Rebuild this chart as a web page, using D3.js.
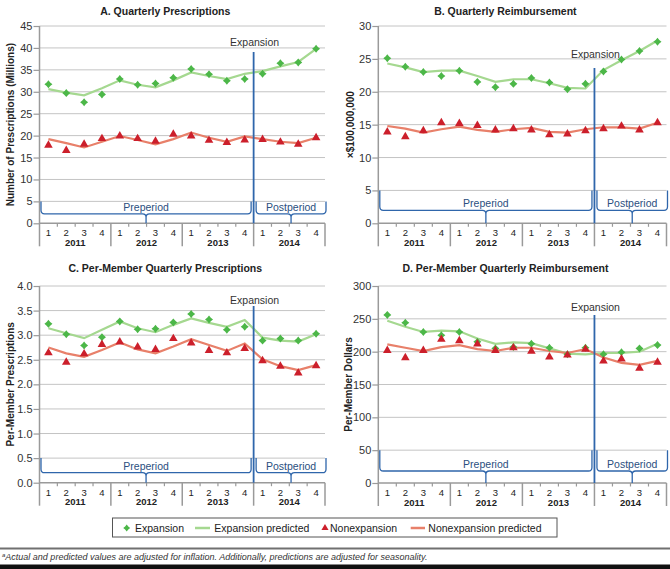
<!DOCTYPE html>
<html><head><meta charset="utf-8">
<script src="https://cdn.jsdelivr.net/npm/d3@7"></script>
<style>
body{margin:0;background:#fff;}
text{font-family:"Liberation Sans",Arial,sans-serif;}
</style></head>
<body><svg id="c" width="670" height="569"></svg>
<script>
// ---------- data ----------
const years = ["2011","2012","2013","2014"];
const quarters = ["1","2","3","4"];
const periods = ["Preperiod","Postperiod"];

const presExp      = [31.7,29.7,27.6,29.4,32.9,31.6,31.9,33.2,35.2,34.0,32.5,32.9,34.1,36.5,36.7,39.8];
const presExpPred  = [30.6,29.8,29.2,30.8,32.6,31.6,31.0,32.6,34.4,33.6,32.9,34.1,34.7,35.8,36.8,39.8];
const presNon      = [17.7,16.5,17.9,19.2,19.8,19.2,18.6,20.2,19.8,18.8,18.3,18.9,19.0,18.4,17.9,19.4];
const presNonPred  = [19.2,18.3,17.3,18.6,19.9,19.0,18.0,19.2,20.7,19.5,18.6,19.8,19.2,18.6,18.3,19.5];

const reimbExp     = [25.1,23.8,23.0,22.4,23.2,21.5,20.7,21.2,22.1,21.4,20.4,21.2,23.1,24.9,26.2,27.6];
const reimbExpPred = [24.3,23.7,23.0,23.2,23.2,22.4,21.5,21.9,21.9,21.3,20.6,20.5,23.3,24.8,26.2,27.8];
const reimbNon     = [13.8,13.1,14.0,15.2,15.1,14.8,14.1,14.3,14.1,13.4,13.5,14.0,14.3,14.7,14.1,15.2];
const reimbNonPred = [14.8,14.4,13.8,14.3,14.7,14.2,13.9,14.3,14.5,13.9,13.8,14.3,14.6,14.6,14.4,15.3];

const pmPresExp     = [3.23,3.02,2.79,2.96,3.28,3.12,3.13,3.26,3.43,3.32,3.11,3.17,2.89,2.93,2.89,3.03];
const pmPresExpPred = [3.14,3.04,2.94,3.11,3.28,3.14,3.06,3.21,3.34,3.25,3.17,3.31,2.95,2.89,2.87,3.02];
const pmPresNon     = [2.63,2.44,2.61,2.80,2.85,2.75,2.70,2.92,2.83,2.68,2.63,2.72,2.47,2.36,2.22,2.37];
const pmPresNonPred = [2.75,2.63,2.56,2.70,2.85,2.71,2.63,2.77,2.92,2.80,2.68,2.83,2.51,2.37,2.29,2.39];

const pmReimbExp     = [256,244,230,225,230,215,205,207,212,206,196,206,196,199,205,210];
const pmReimbExpPred = [247,238,230,232,231,220,212,214,213,205,197,196,198,198,200,212];
const pmReimbNon     = [201,190,201,218,216,211,201,205,200,191,194,203,185,188,174,183];
const pmReimbNonPred = [211,206,201,207,210,204,201,206,206,201,198,204,191,183,180,186];

const ticksA = [0,5,10,15,20,25,30,35,40,45];
const ticksB = [0,5,10,15,20,25,30];
const ticksC = [0,0.5,1.0,1.5,2.0,2.5,3.0,3.5,4.0];
const ticksD = [0,50,100,150,200,250,300];

const legendLabels = ["Expansion","Expansion predicted","Nonexpansion","Nonexpansion predicted"];
const footnote = "Actual and predicted values are adjusted for inflation. Additionally, predictions are adjusted for seasonality.";

// ---------- drawing ----------
const C = {green:"#4cb748", greenLine:"#a5d890", red:"#cc1f2b", redLine:"#e8806a",
           blue:"#2f66ab", grid:"#c4c4c4", axis:"#9a9a9a"};
const svg = d3.select("#c");
const cats = [];
years.forEach(y => quarters.forEach(q => cats.push(y + "-" + q)));
const expIndex = 12; // first postperiod quarter

const panels = [
  {title:"A. Quarterly Prescriptions", ylab:"Number of Prescriptions (Millions)", x0:39.5, x1:325, yT:26, yB:223.3,
   ticks:ticksA, fmt:d3.format("d"), exp:presExp, expP:presExpPred, non:presNon, nonP:presNonPred,
   titleY:15, labX:10, expTextY:46, expTop:52, bracketDrop:9.5},
  {title:"B. Quarterly Reimbursement", ylab:"\u00d7$100,000,000", x0:378.3, x1:666.5, yT:26, yB:223.3,
   ticks:ticksB, fmt:d3.format("d"), exp:reimbExp, expP:reimbExpPred, non:reimbNon, nonP:reimbNonPred,
   titleY:15, labX:350, expTextY:58, expTop:68, bracketDrop:13},
  {title:"C. Per-Member Quarterly Prescriptions", ylab:"Per-Member Prescriptions", x0:39.5, x1:325, yT:286, yB:482.7,
   ticks:ticksC, fmt:d3.format(".1f"), exp:pmPresExp, expP:pmPresExpPred, non:pmPresNon, nonP:pmPresNonPred,
   titleY:272, labX:10, expTextY:304, expTop:306, bracketDrop:10},
  {title:"D. Per-Member Quarterly Reimbursement", ylab:"Per-Member Dollars", x0:378.3, x1:666.5, yT:286, yB:483,
   ticks:ticksD, fmt:d3.format("d"), exp:pmReimbExp, expP:pmReimbExpPred, non:pmReimbNon, nonP:pmReimbNonPred,
   titleY:272, labX:348, expTextY:311, expTop:315, bracketDrop:12}
];

const diamond = s => `M0,${-s}L${s*0.45},${-s*0.45}L${s},0L${s*0.45},${s*0.45}L0,${s}L${-s*0.45},${s*0.45}L${-s},0L${-s*0.45},${-s*0.45}Z`;
const triangle = d3.symbol().type(d3.symbolTriangle).size(32);

panels.forEach(p => {
  const g = svg.append("g");
  const x = d3.scaleBand().domain(cats).range([p.x0, p.x1]);
  const y = d3.scaleLinear().domain([p.ticks[0], p.ticks[p.ticks.length-1]]).range([p.yB, p.yT]);
  const cx = i => x(cats[i]) + x.bandwidth()/2;
  const bw = x.bandwidth();

  // title
  g.append("text").attr("x",(p.x0+p.x1)/2 - 17).attr("y",p.titleY).attr("text-anchor","middle")
    .attr("font-size","10.5px").attr("font-weight","bold").attr("fill","#222").text(p.title);

  // gridlines
  g.selectAll(".gl").data(p.ticks.slice(1)).enter().append("line")
    .attr("x1",p.x0).attr("x2",p.x1).attr("y1",d=>y(d)).attr("y2",d=>y(d))
    .attr("stroke",C.grid).attr("stroke-width",1);

  // y axis
  const ya = g.append("g").attr("transform",`translate(${p.x0},0)`)
    .call(d3.axisLeft(y).tickValues(p.ticks).tickFormat(p.fmt).tickSize(6).tickPadding(1));
  ya.select(".domain").remove();
  ya.selectAll(".tick line").attr("stroke",C.axis).attr("stroke-width",1.2);
  ya.selectAll(".tick text").attr("font-size","11px").attr("fill","#333").attr("font-family","Liberation Sans, Arial, sans-serif");
  g.append("line").attr("x1",p.x0).attr("x2",p.x0).attr("y1",p.yT).attr("y2",p.yB+23)
    .attr("stroke",C.axis).attr("stroke-width",1.5);
  // x axis baseline
  g.append("line").attr("x1",p.x0).attr("x2",p.x1).attr("y1",p.yB).attr("y2",p.yB)
    .attr("stroke",C.axis).attr("stroke-width",1.5);

  // y label
  g.append("text").attr("transform",`translate(${p.labX},${(p.yT+p.yB)/2}) rotate(-90)`)
    .attr("text-anchor","middle").attr("dominant-baseline","central")
    .attr("font-size","10px").attr("font-weight","bold").attr("fill","#222").text(p.ylab);

  // quarter ticks & year separators
  cats.forEach((c,i) => {
    if (i % 4 === 0) return;
    g.append("line").attr("x1",x(c)).attr("x2",x(c)).attr("y1",p.yB).attr("y2",p.yB+3.5)
      .attr("stroke",C.axis).attr("stroke-width",1.2);
  });
  years.forEach((yr,k) => {
    const xs = x(cats[k*4]);
    if (k>0) g.append("line").attr("x1",xs).attr("x2",xs).attr("y1",p.yB).attr("y2",p.yB+23)
      .attr("stroke",C.axis).attr("stroke-width",1.5);
    g.append("text").attr("x",xs + bw*2).attr("y",p.yB+22.5).attr("text-anchor","middle")
      .attr("font-size","9.5px").attr("font-weight","bold").attr("fill","#222").text(yr);
  });
  g.append("line").attr("x1",p.x1).attr("x2",p.x1).attr("y1",p.yB).attr("y2",p.yB+23)
    .attr("stroke",C.axis).attr("stroke-width",1.5);
  cats.forEach((c,i) => {
    g.append("text").attr("x",cx(i)).attr("y",p.yB+13).attr("text-anchor","middle")
      .attr("font-size","9.5px").attr("fill","#222").text(quarters[i%4]);
  });

  // brackets
  const xe = x(cats[expIndex]);
  const top = y(p.ticks[1]);
  const yH = p.yB - p.bracketDrop;
  const r = 3.5;
  const brace = (L,R) => {
    const m = (L+R)/2;
    return `M${L},${top}V${yH-r}Q${L},${yH} ${L+r},${yH}H${m-r}Q${m},${yH} ${m},${yH+r}V${p.yB}` +
           `M${m},${yH+r}Q${m},${yH} ${m+r},${yH}H${R-r}Q${R},${yH} ${R},${yH-r}V${top}`;
  };
  const spans = [[p.x0+1.5, xe-2.5],[xe+2.5, p.x1+1]];
  spans.forEach((s,k) => {
    g.append("path").attr("d",brace(s[0],s[1])).attr("fill","none")
      .attr("stroke",C.blue).attr("stroke-width",1.3);
    g.append("text").attr("x",(s[0]+s[1])/2).attr("y",yH-3).attr("text-anchor","middle")
      .attr("font-size","10.5px").attr("fill","#2b4f80").text(periods[k]);
  });

  // predicted lines
  const line = d3.line().x((d,i)=>cx(i)).y(d=>y(d));
  g.append("path").datum(p.expP).attr("d",line).attr("fill","none")
    .attr("stroke",C.greenLine).attr("stroke-width",2.2);
  g.append("path").datum(p.nonP).attr("d",line).attr("fill","none")
    .attr("stroke",C.redLine).attr("stroke-width",2.2);

  // markers
  g.selectAll(".mk").data(p.exp).enter().append("path")
    .attr("transform",(d,i)=>`translate(${cx(i)},${y(d)})`).attr("d",diamond(4)).attr("fill",C.green);
  g.selectAll(".tr").data(p.non).enter().append("path")
    .attr("transform",(d,i)=>`translate(${cx(i)},${y(d)-0.5})`).attr("d",triangle).attr("fill",C.red);

  // expansion line
  g.append("line").attr("x1",xe).attr("x2",xe).attr("y1",p.expTop).attr("y2",p.yB)
    .attr("stroke",C.blue).attr("stroke-width",1.8);
  g.append("text").attr("x",xe+1).attr("y",p.expTextY).attr("text-anchor","middle")
    .attr("font-size","10.5px").attr("fill","#333").text("Expansion");
});

// legend
const lg = svg.append("g");
lg.append("rect").attr("x",112.5).attr("y",518).attr("width",444.5).attr("height",19)
  .attr("fill","#fff").attr("stroke","#555").attr("stroke-width",1);
const ly = 528;
lg.append("path").attr("transform",`translate(126.7,${ly})`).attr("d",diamond(3.5)).attr("fill",C.green);
lg.append("text").attr("x",135).attr("y",ly+3.8).attr("font-size","10.5px").attr("fill","#222").text(legendLabels[0]);
lg.append("line").attr("x1",195).attr("x2",210).attr("y1",ly).attr("y2",ly).attr("stroke",C.greenLine).attr("stroke-width",2.5);
lg.append("text").attr("x",214.3).attr("y",ly+3.8).attr("font-size","10.5px").attr("fill","#222").text(legendLabels[1]);
lg.append("path").attr("transform",`translate(325,${ly})`).attr("d",d3.symbol().type(d3.symbolTriangle).size(22)).attr("fill",C.red);
lg.append("text").attr("x",330).attr("y",ly+3.8).attr("font-size","10.5px").attr("fill","#222").text(legendLabels[2]);
lg.append("line").attr("x1",410.7).attr("x2",425).attr("y1",ly).attr("y2",ly).attr("stroke",C.redLine).attr("stroke-width",2.5);
lg.append("text").attr("x",428.3).attr("y",ly+3.8).attr("font-size","10.5px").attr("fill","#222").text(legendLabels[3]);

// footnote
svg.append("rect").attr("x",0).attr("y",547.5).attr("width",670).attr("height",2).attr("fill","#707070");
const fn = svg.append("text").attr("x",2).attr("y",560).attr("font-family","Liberation Serif, Times New Roman, serif")
  .attr("font-style","italic").attr("font-size","9px").attr("fill","#333");
fn.append("tspan").attr("font-size","6px").attr("dy","-3").text("a");
fn.append("tspan").attr("dy","3").text(footnote);
svg.append("rect").attr("x",0).attr("y",564.5).attr("width",670).attr("height",4.5).attr("fill","#111");
</script></body></html>
